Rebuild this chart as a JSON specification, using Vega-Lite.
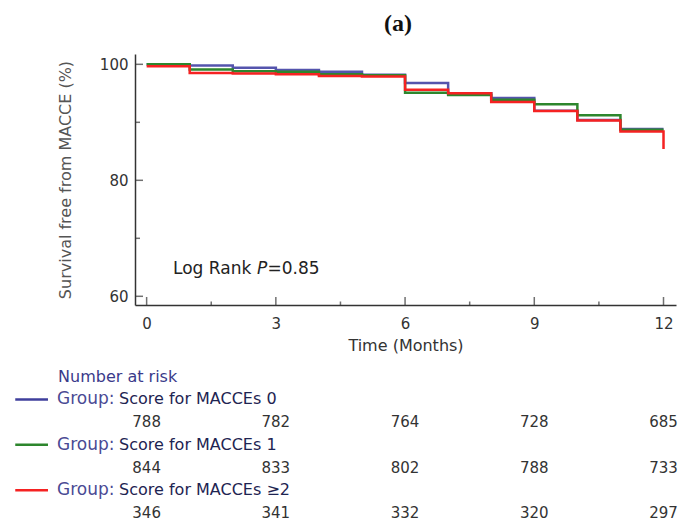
{
  "$schema": "https://vega.github.io/schema/vega-lite/v6.json",
  "padding": {"left": 14, "top": 11, "right": 5, "bottom": 0},
  "background": "white",
  "title": {"text": "(a)", "font": "Liberation Serif", "fontWeight": "bold", "fontSize": 24, "color": "#111", "anchor": "middle", "offset": 18.5, "dx": 52},
  "bounds": "flush",
  "spacing": 71.7,
  "config": {"view": {"stroke": null}, "font": "DejaVu Sans"},
  "resolve": {"scale": {"x": "independent", "y": "independent", "color": "independent"}},
  "datasets": {
    "curves": [
      {"group": "Score for MACCEs 0", "i": 0, "t": 0, "s": 100},
      {"group": "Score for MACCEs 0", "i": 1, "t": 1, "s": 99.8},
      {"group": "Score for MACCEs 0", "i": 2, "t": 2, "s": 99.4},
      {"group": "Score for MACCEs 0", "i": 3, "t": 3, "s": 99.0},
      {"group": "Score for MACCEs 0", "i": 4, "t": 4, "s": 98.7},
      {"group": "Score for MACCEs 0", "i": 5, "t": 5, "s": 98.2},
      {"group": "Score for MACCEs 0", "i": 6, "t": 6, "s": 96.8},
      {"group": "Score for MACCEs 0", "i": 7, "t": 7, "s": 95.0},
      {"group": "Score for MACCEs 0", "i": 8, "t": 8, "s": 94.2},
      {"group": "Score for MACCEs 0", "i": 9, "t": 9, "s": 92.0},
      {"group": "Score for MACCEs 0", "i": 10, "t": 10, "s": 90.4},
      {"group": "Score for MACCEs 0", "i": 11, "t": 11, "s": 88.85},
      {"group": "Score for MACCEs 0", "i": 12, "t": 12, "s": 88.85},
      {"group": "Score for MACCEs 1", "i": 0, "t": 0, "s": 100},
      {"group": "Score for MACCEs 1", "i": 1, "t": 1, "s": 99.1},
      {"group": "Score for MACCEs 1", "i": 2, "t": 2, "s": 98.8},
      {"group": "Score for MACCEs 1", "i": 3, "t": 3, "s": 98.7},
      {"group": "Score for MACCEs 1", "i": 4, "t": 4, "s": 98.3},
      {"group": "Score for MACCEs 1", "i": 5, "t": 5, "s": 98.1},
      {"group": "Score for MACCEs 1", "i": 6, "t": 6, "s": 95.1},
      {"group": "Score for MACCEs 1", "i": 7, "t": 7, "s": 94.7},
      {"group": "Score for MACCEs 1", "i": 8, "t": 8, "s": 93.9},
      {"group": "Score for MACCEs 1", "i": 9, "t": 9, "s": 93.1},
      {"group": "Score for MACCEs 1", "i": 10, "t": 10, "s": 91.2},
      {"group": "Score for MACCEs 1", "i": 11, "t": 11, "s": 88.7},
      {"group": "Score for MACCEs 1", "i": 12, "t": 12, "s": 88.7},
      {"group": "Score for MACCEs ≥2", "i": 0, "t": 0, "s": 99.65},
      {"group": "Score for MACCEs ≥2", "i": 1, "t": 1, "s": 98.5},
      {"group": "Score for MACCEs ≥2", "i": 2, "t": 2, "s": 98.4},
      {"group": "Score for MACCEs ≥2", "i": 3, "t": 3, "s": 98.3},
      {"group": "Score for MACCEs ≥2", "i": 4, "t": 4, "s": 98.0},
      {"group": "Score for MACCEs ≥2", "i": 5, "t": 5, "s": 97.9},
      {"group": "Score for MACCEs ≥2", "i": 6, "t": 6, "s": 95.6},
      {"group": "Score for MACCEs ≥2", "i": 7, "t": 7, "s": 95.0},
      {"group": "Score for MACCEs ≥2", "i": 8, "t": 8, "s": 93.5},
      {"group": "Score for MACCEs ≥2", "i": 9, "t": 9, "s": 91.95},
      {"group": "Score for MACCEs ≥2", "i": 10, "t": 10, "s": 90.3},
      {"group": "Score for MACCEs ≥2", "i": 11, "t": 11, "s": 88.4},
      {"group": "Score for MACCEs ≥2", "i": 12, "t": 12, "s": 88.4},
      {"group": "Score for MACCEs ≥2", "i": 13, "t": 12, "s": 85.4}
    ],
    "xticks": [
      {"v": 0, "k": "major"}, {"v": 1.5, "k": "minor"}, {"v": 3, "k": "major"}, {"v": 4.5, "k": "minor"},
      {"v": 6, "k": "major"}, {"v": 7.5, "k": "minor"}, {"v": 9, "k": "major"}, {"v": 10.5, "k": "minor"},
      {"v": 12, "k": "major"}
    ],
    "yticks": [
      {"v": 60, "k": "major"}, {"v": 70, "k": "minor"}, {"v": 80, "k": "major"}, {"v": 90, "k": "minor"}, {"v": 100, "k": "major"}
    ],
    "note": [
      {"t": 0.613, "s": 64.76, "a": "Log Rank ", "b": "P", "c": "=0.85"}
    ],
    "table": [
      {"row": 0, "x": -2.057, "text": "Number at risk", "kind": "header"},
      {"row": 1, "x": -2.08, "text": "Group:", "kind": "group"},
      {"row": 1, "x": -0.64, "text": "Score for MACCEs 0", "kind": "label"},
      {"row": 2, "x": 0, "text": "788", "kind": "num"},
      {"row": 2, "x": 3, "text": "782", "kind": "num"},
      {"row": 2, "x": 6, "text": "764", "kind": "num"},
      {"row": 2, "x": 9, "text": "728", "kind": "num"},
      {"row": 2, "x": 12, "text": "685", "kind": "num"},
      {"row": 3, "x": -2.08, "text": "Group:", "kind": "group"},
      {"row": 3, "x": -0.64, "text": "Score for MACCEs 1", "kind": "label"},
      {"row": 4, "x": 0, "text": "844", "kind": "num"},
      {"row": 4, "x": 3, "text": "833", "kind": "num"},
      {"row": 4, "x": 6, "text": "802", "kind": "num"},
      {"row": 4, "x": 9, "text": "788", "kind": "num"},
      {"row": 4, "x": 12, "text": "733", "kind": "num"},
      {"row": 5, "x": -2.08, "text": "Group:", "kind": "group"},
      {"row": 5, "x": -0.64, "text": "Score for MACCEs ≥2", "kind": "label"},
      {"row": 6, "x": 0, "text": "346", "kind": "num"},
      {"row": 6, "x": 3, "text": "341", "kind": "num"},
      {"row": 6, "x": 6, "text": "332", "kind": "num"},
      {"row": 6, "x": 9, "text": "320", "kind": "num"},
      {"row": 6, "x": 12, "text": "297", "kind": "num"}
    ],
    "keys": [
      {"row": 1, "x": -3.05, "x2": -2.29, "group": "Score for MACCEs 0"},
      {"row": 3, "x": -3.05, "x2": -2.29, "group": "Score for MACCEs 1"},
      {"row": 5, "x": -3.05, "x2": -2.29, "group": "Score for MACCEs ≥2"}
    ]
  },
  "vconcat": [
    {
      "width": 541,
      "height": 251,
      "layer": [
        {
          "data": {"name": "curves"},
          "mark": {"type": "line", "interpolate": "step-after", "strokeWidth": 2.5},
          "encoding": {
            "x": {
              "field": "t", "type": "quantitative",
              "scale": {"domain": [-0.27, 12.29], "nice": false, "zero": false},
              "axis": {
                "values": [0, 3, 6, 9, 12],
                "ticks": false, "tickSize": 0,
                "domainColor": "#333", "domainWidth": 1.5,
                "labelFont": "DejaVu Sans", "labelFontSize": 15, "labelColor": "#333",
                "labelPadding": 11, "labelFlush": false, "labelOverlap": false,
                "grid": false,
                "title": "Time (Months)", "titleFont": "DejaVu Sans", "titleFontSize": 16,
                "titleFontWeight": "normal", "titleColor": "#333", "titlePadding": 6
              }
            },
            "y": {
              "field": "s", "type": "quantitative",
              "scale": {"domain": [58.5, 101.78], "nice": false, "zero": false},
              "axis": {
                "values": [60, 80, 100],
                "ticks": false, "tickSize": 0,
                "domainColor": "#333", "domainWidth": 1.5,
                "labelFont": "DejaVu Sans", "labelFontSize": 15, "labelColor": "#333",
                "labelPadding": 7, "labelFlush": false, "labelOverlap": false,
                "grid": false,
                "title": "Survival free from MACCE (%)", "titleFont": "DejaVu Sans", "titleFontSize": 16,
                "titleFontWeight": "normal", "titleColor": "#555", "titlePadding": 26
              }
            },
            "color": {
              "field": "group", "type": "nominal",
              "scale": {"domain": ["Score for MACCEs 0", "Score for MACCEs 1", "Score for MACCEs ≥2"], "range": ["#5454ad", "#2d862d", "#f52222"]},
              "legend": null
            },
            "order": {"field": "i", "type": "quantitative"}
          }
        },
        {
          "data": {"name": "xticks"},
          "transform": [{"filter": "datum.k === 'major'"}],
          "mark": {"type": "tick", "orient": "vertical", "thickness": 1.5, "color": "#333", "size": 8, "yOffset": -4},
          "encoding": {
            "x": {"field": "v", "type": "quantitative"},
            "y": {"datum": 58.5, "type": "quantitative"}
          }
        },
        {
          "data": {"name": "xticks"},
          "transform": [{"filter": "datum.k === 'minor'"}],
          "mark": {"type": "tick", "orient": "vertical", "thickness": 1.5, "color": "#333", "size": 3.5, "yOffset": -1.75},
          "encoding": {
            "x": {"field": "v", "type": "quantitative"},
            "y": {"datum": 58.5, "type": "quantitative"}
          }
        },
        {
          "data": {"name": "yticks"},
          "transform": [{"filter": "datum.k === 'major'"}],
          "mark": {"type": "tick", "orient": "horizontal", "thickness": 1.5, "color": "#333", "size": 8, "xOffset": 4},
          "encoding": {
            "y": {"field": "v", "type": "quantitative"},
            "x": {"datum": -0.27, "type": "quantitative"}
          }
        },
        {
          "data": {"name": "yticks"},
          "transform": [{"filter": "datum.k === 'minor'"}],
          "mark": {"type": "tick", "orient": "horizontal", "thickness": 1.5, "color": "#333", "size": 5, "xOffset": 2.5},
          "encoding": {
            "y": {"field": "v", "type": "quantitative"},
            "x": {"datum": -0.27, "type": "quantitative"}
          }
        },
        {
          "data": {"name": "note"},
          "mark": {"type": "text", "align": "left", "baseline": "middle", "fontSize": 17, "color": "#222", "font": "DejaVu Sans"},
          "encoding": {
            "x": {"field": "t", "type": "quantitative"},
            "y": {"field": "s", "type": "quantitative"},
            "text": {"field": "a"}
          }
        },
        {
          "data": {"name": "note"},
          "mark": {"type": "text", "align": "left", "baseline": "middle", "fontSize": 17, "color": "#222", "font": "DejaVu Sans", "fontStyle": "italic", "dx": 84},
          "encoding": {
            "x": {"field": "t", "type": "quantitative"},
            "y": {"field": "s", "type": "quantitative"},
            "text": {"field": "b"}
          }
        },
        {
          "data": {"name": "note"},
          "mark": {"type": "text", "align": "left", "baseline": "middle", "fontSize": 17, "color": "#222", "font": "DejaVu Sans", "dx": 94.5},
          "encoding": {
            "x": {"field": "t", "type": "quantitative"},
            "y": {"field": "s", "type": "quantitative"},
            "text": {"field": "c"}
          }
        }
      ]
    },
    {
      "width": 541,
      "height": 136.2,
      "encoding": {
        "x": {"field": "x", "type": "quantitative", "scale": {"domain": [-0.27, 12.29], "nice": false, "zero": false}, "axis": null},
        "y": {"field": "row", "type": "quantitative", "scale": {"domain": [0, 6], "reverse": true, "nice": false, "zero": false}, "axis": null}
      },
      "layer": [
        {
          "data": {"name": "keys"},
          "mark": {"type": "rule", "strokeWidth": 2.5},
          "encoding": {
            "x2": {"field": "x2"},
            "color": {
              "field": "group", "type": "nominal",
              "scale": {"domain": ["Score for MACCEs 0", "Score for MACCEs 1", "Score for MACCEs ≥2"], "range": ["#3f3f9c", "#2d862d", "#f52222"]},
              "legend": null
            }
          }
        },
        {
          "data": {"name": "table"},
          "transform": [{"filter": "datum.kind === 'header'"}],
          "mark": {"type": "text", "align": "left", "baseline": "middle", "fontSize": 16, "color": "#3a3a8a", "font": "DejaVu Sans"},
          "encoding": {"text": {"field": "text"}}
        },
        {
          "data": {"name": "table"},
          "transform": [{"filter": "datum.kind === 'group'"}],
          "mark": {"type": "text", "align": "left", "baseline": "middle", "fontSize": 17, "color": "#4a4a94", "font": "DejaVu Sans"},
          "encoding": {"text": {"field": "text"}}
        },
        {
          "data": {"name": "table"},
          "transform": [{"filter": "datum.kind === 'label'"}],
          "mark": {"type": "text", "align": "left", "baseline": "middle", "fontSize": 16, "color": "#1e2452", "font": "DejaVu Sans"},
          "encoding": {"text": {"field": "text"}}
        },
        {
          "data": {"name": "table"},
          "transform": [{"filter": "datum.kind === 'num'"}],
          "mark": {"type": "text", "align": "center", "baseline": "middle", "fontSize": 15, "color": "#333", "font": "DejaVu Sans"},
          "encoding": {"text": {"field": "text"}}
        }
      ]
    }
  ]
}
